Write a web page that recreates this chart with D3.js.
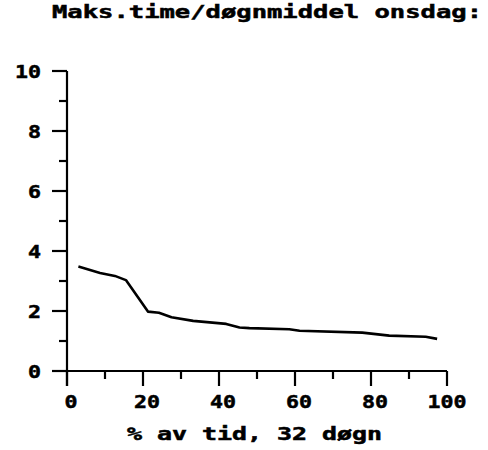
<!DOCTYPE html>
<html><head><meta charset="utf-8">
<script src="https://cdn.jsdelivr.net/npm/d3@7"></script>
<style>body{margin:0;background:#fff}svg{display:block}</style>
</head><body><svg id="c" width="488" height="450"></svg>
<script>
const title = "Maks.time/døgnmiddel onsdag:";
const xLabel = "% av tid, 32 døgn";
const xPct = [3, 8.7, 12.6, 15.5, 21.3, 24.2, 27.5, 33.2, 41.9, 45.4, 48, 58.5, 61.2, 77.7, 84.8, 94.4, 97.4];
const yVal = [3.48, 3.27, 3.17, 3.03, 1.98, 1.94, 1.79, 1.67, 1.57, 1.45, 1.43, 1.39, 1.34, 1.28, 1.18, 1.14, 1.07];
const xTicks = [0, 20, 40, 60, 80, 100];
const xMinor = [10, 30, 50, 70, 90];
const yTicks = [0, 2, 4, 6, 8, 10];
const yMinor = [1, 3, 5, 7, 9];

const svg = d3.select("#c");
const x = d3.scaleLinear().domain([0, 100]).range([67, 447]);
const y = d3.scaleLinear().domain([0, 10]).range([371, 71]);
const font = "'DejaVu Sans Mono', monospace";

function stext(px, py, str, size, sx, ls, anchor) {
  const gg = svg.append("g").attr("transform", `translate(${px},${py}) scale(${sx},1)`);
  gg.append("text").attr("x", 0).attr("y", 0).text(str)
    .attr("font-family", font).attr("font-weight", "bold").attr("font-size", size)
    .attr("letter-spacing", ls).attr("text-anchor", anchor || "start")
    .attr("fill", "#000").attr("stroke", "#000").attr("stroke-width", 0.5);
}
function ltext(px, py, str, size, len) {
  svg.append("text").attr("x", px).attr("y", py).text(str)
    .attr("font-family", font).attr("font-weight", "bold").attr("font-size", size)
    .attr("textLength", len).attr("lengthAdjust", "spacingAndGlyphs")
    .attr("fill", "#000").attr("stroke", "#000").attr("stroke-width", 0.5);
}

ltext(52, 18, title, 17, 430);

const g = svg.append("g").attr("stroke", "#000").attr("stroke-width", 2.2).attr("fill", "none");
g.append("line").attr("x1", x(0)).attr("x2", x(0)).attr("y1", y(10)).attr("y2", y(0) + 15);
g.append("line").attr("x1", x(0) - 15).attr("x2", x(100)).attr("y1", y(0)).attr("y2", y(0));
yTicks.forEach(t => g.append("line").attr("x1", x(0) - 15).attr("x2", x(0)).attr("y1", y(t)).attr("y2", y(t)));
yMinor.forEach(t => g.append("line").attr("x1", x(0) - 8).attr("x2", x(0)).attr("y1", y(t)).attr("y2", y(t)));
xTicks.forEach(t => g.append("line").attr("x1", x(t)).attr("x2", x(t)).attr("y1", y(0)).attr("y2", y(0) + 15));
xMinor.forEach(t => g.append("line").attr("x1", x(t)).attr("x2", x(t)).attr("y1", y(0)).attr("y2", y(0) + 8));

yTicks.forEach(t => stext(41, y(t) + 7, String(t), 18, 1.2, 0, "end"));
xTicks.forEach(t => stext(x(t) + (t === 100 ? 0 : 4), 408, String(t), 18, 1.2, 0, "middle"));
ltext(127, 440, xLabel, 17, 255);

const pts = xPct.map((v, i) => [v, yVal[i]]);
svg.append("path").datum(pts)
  .attr("d", d3.line().x(d => x(d[0])).y(d => y(d[1])))
  .attr("fill", "none").attr("stroke", "#000").attr("stroke-width", 2.6).attr("stroke-linejoin", "round");
</script></body></html>
